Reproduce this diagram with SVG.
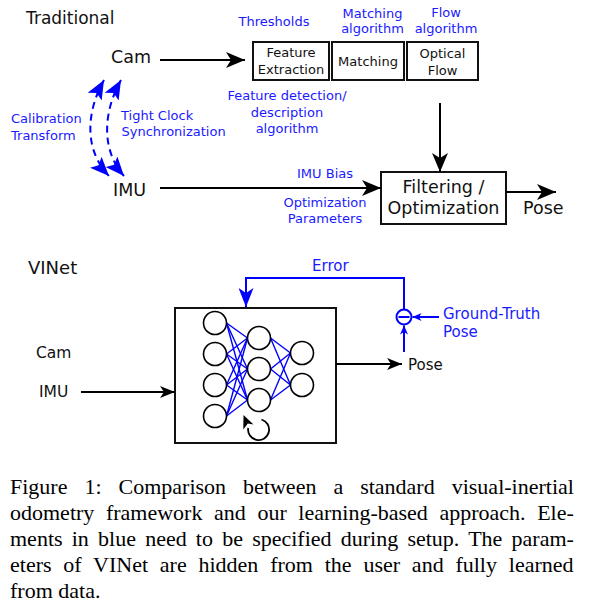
<svg xmlns="http://www.w3.org/2000/svg" width="589" height="605" viewBox="0 0 589 605">
<style>
.t{font-family:"DejaVu Sans",Verdana,sans-serif;fill:#111}
.b{font-family:"DejaVu Sans",Verdana,sans-serif;fill:#1a1aff;font-size:13px}
.box{fill:#fff;stroke:#111;stroke-width:2}
.ln{fill:none;stroke:#000;stroke-width:2}
.bl{fill:none;stroke:#0000ff;stroke-width:2}
.nc{fill:#fff;stroke:#000;stroke-width:1.6}
.nn{stroke:#0000ff;stroke-width:1.4}
.cap{font-family:"Liberation Serif","Times New Roman",serif;font-size:22px;fill:#000}
</style>
<defs>
<marker id="ah" viewBox="0 0 19 16" markerWidth="19" markerHeight="16" refX="19" refY="8" orient="auto" markerUnits="userSpaceOnUse"><path d="M0,0 L19,8 L0,16 L5,8 Z" fill="#000"/></marker>
<marker id="ahs" viewBox="0 0 15 12" markerWidth="15" markerHeight="12" refX="15" refY="6" orient="auto" markerUnits="userSpaceOnUse"><path d="M0,0 L15,6 L0,12 L4,6 Z" fill="#000"/></marker>
<marker id="bh" viewBox="0 0 19 16" markerWidth="19" markerHeight="16" refX="19" refY="8" orient="auto-start-reverse" markerUnits="userSpaceOnUse"><path d="M0,0 L19,8 L0,16 L4,8 Z" fill="#0000ff"/></marker>
<marker id="be" viewBox="0 0 19 15" markerWidth="19" markerHeight="15" refX="19" refY="7.5" orient="auto" markerUnits="userSpaceOnUse"><path d="M0,0 L19,7.5 L0,15 L5,7.5 Z" fill="#0000ff"/></marker>
<marker id="bs" viewBox="0 0 9 8" markerWidth="9" markerHeight="8" refX="9" refY="4" orient="auto" markerUnits="userSpaceOnUse"><path d="M0,0 L9,4 L0,8 L2.5,4 Z" fill="#0000ff"/></marker>
</defs>

<!-- Traditional -->
<text class="t" x="26" y="24" font-size="17">Traditional</text>

<g id="cam1"><text class="t" x="111" y="63" font-size="17.5">Cam</text></g>
<g id="imu1"><text class="t" x="113" y="196" font-size="17.5">IMU</text></g>

<g id="feature-extraction">
<rect class="box" x="253" y="42" width="76" height="38"/>
<text class="t" x="291" y="57" font-size="13" text-anchor="middle">Feature</text>
<text class="t" x="291" y="74" font-size="13" text-anchor="middle">Extraction</text>
</g>
<g id="matching">
<rect class="box" x="332" y="42" width="72" height="38"/>
<text class="t" x="368" y="66" font-size="13" text-anchor="middle">Matching</text>
</g>
<g id="optical-flow">
<rect class="box" x="407" y="42" width="71" height="38"/>
<text class="t" x="442.5" y="58" font-size="13" text-anchor="middle">Optical</text>
<text class="t" x="442.5" y="75" font-size="13" text-anchor="middle">Flow</text>
</g>
<g id="filtering">
<rect class="box" x="381" y="172" width="125" height="52"/>
<text class="t" x="443.5" y="193" font-size="17.5" text-anchor="middle">Filtering /</text>
<text class="t" x="443.5" y="214" font-size="17.5" text-anchor="middle">Optimization</text>
</g>
<g id="pose1"><text class="t" x="523" y="214" font-size="17.5">Pose</text></g>

<g id="blue-labels-top">
<text class="b" x="274" y="25.5" text-anchor="middle">Thresholds</text>
<text class="b" x="372.5" y="18" text-anchor="middle">Matching</text>
<text class="b" x="372.5" y="33" text-anchor="middle">algorithm</text>
<text class="b" x="446" y="17" text-anchor="middle">Flow</text>
<text class="b" x="446" y="33" text-anchor="middle">algorithm</text>
<text class="b" x="287" y="100" text-anchor="middle">Feature detection/</text>
<text class="b" x="287" y="116.5" text-anchor="middle">description</text>
<text class="b" x="287" y="132.5" text-anchor="middle">algorithm</text>
<text class="b" x="11" y="123">Calibration</text>
<text class="b" x="11" y="139.5">Transform</text>
<text class="b" x="121" y="119.5">Tight Clock</text>
<text class="b" x="121.5" y="136">Synchronization</text>
<text class="b" x="325" y="177.5" text-anchor="middle">IMU Bias</text>
<text class="b" x="325" y="206.5" text-anchor="middle">Optimization</text>
<text class="b" x="325" y="223" text-anchor="middle">Parameters</text>
</g>

<g id="connectors-traditional">
<line class="ln" x1="160" y1="60" x2="245" y2="60" marker-end="url(#ah)"/>
<line class="ln" x1="440" y1="103" x2="440" y2="172" marker-end="url(#ah)"/>
<line class="ln" x1="160" y1="188" x2="381" y2="188" marker-end="url(#ah)"/>
<line class="ln" x1="506" y1="192" x2="556" y2="192" marker-end="url(#ah)"/>
<path class="bl" stroke-width="2.4" stroke-dasharray="7,5" d="M104,80 C86,112 84,150 109,176" marker-start="url(#bh)" marker-end="url(#bh)"/>
<path class="bl" stroke-width="2.4" stroke-dasharray="7,5" d="M121,80 C103,112 101,150 124,176" marker-start="url(#bh)" marker-end="url(#bh)"/>
</g>

<!-- VINet -->
<text class="t" x="28" y="274" font-size="18">VINet</text>
<g id="cam2"><text class="t" x="36" y="358" font-size="15.5">Cam</text></g>
<g id="imu2"><text class="t" x="39" y="397" font-size="15.5">IMU</text></g>

<g id="vinet">
<rect class="box" x="175" y="308" width="161" height="135"/>
<g id="net-edges">
<line class="nn" x1="226.5" y1="323" x2="247.5" y2="338"/>
<line class="nn" x1="226.5" y1="323" x2="247.5" y2="369"/>
<line class="nn" x1="226.5" y1="323" x2="247.5" y2="400"/>
<line class="nn" x1="226.5" y1="354" x2="247.5" y2="338"/>
<line class="nn" x1="226.5" y1="354" x2="247.5" y2="369"/>
<line class="nn" x1="226.5" y1="354" x2="247.5" y2="400"/>
<line class="nn" x1="226.5" y1="385" x2="247.5" y2="338"/>
<line class="nn" x1="226.5" y1="385" x2="247.5" y2="369"/>
<line class="nn" x1="226.5" y1="385" x2="247.5" y2="400"/>
<line class="nn" x1="226.5" y1="416" x2="247.5" y2="338"/>
<line class="nn" x1="226.5" y1="416" x2="247.5" y2="369"/>
<line class="nn" x1="226.5" y1="416" x2="247.5" y2="400"/>
<line class="nn" x1="270.5" y1="338" x2="290.5" y2="353"/>
<line class="nn" x1="270.5" y1="338" x2="290.5" y2="385"/>
<line class="nn" x1="270.5" y1="369" x2="290.5" y2="353"/>
<line class="nn" x1="270.5" y1="369" x2="290.5" y2="385"/>
<line class="nn" x1="270.5" y1="400" x2="290.5" y2="353"/>
<line class="nn" x1="270.5" y1="400" x2="290.5" y2="385"/>
</g>
<g id="neurons">
<circle class="nc" cx="215" cy="323" r="11.5"/>
<circle class="nc" cx="215" cy="354" r="11.5"/>
<circle class="nc" cx="215" cy="385" r="11.5"/>
<circle class="nc" cx="215" cy="416" r="11.5"/>
<circle class="nc" cx="259" cy="338" r="11.5"/>
<circle class="nc" cx="259" cy="369" r="11.5"/>
<circle class="nc" cx="259" cy="400" r="11.5"/>
<circle class="nc" cx="302" cy="353" r="11.5"/>
<circle class="nc" cx="302" cy="385" r="11.5"/>
</g>
<path d="M261.5,419.5 A10.5,10.5 0 1 1 248.2,428" fill="none" stroke="#000" stroke-width="1.8"/>
<polygon points="243.5,415 253.5,424.5 247.8,423.5 243.3,429.5" fill="#000"/>
</g>

<g id="minus-node">
<circle cx="404" cy="317" r="7.5" fill="#fff" stroke="#0000ff" stroke-width="2"/>
<line x1="398.5" y1="317" x2="409.5" y2="317" stroke="#0000ff" stroke-width="2"/>
</g>
<g id="error-label"><text class="b" x="312" y="271" style="font-size:15px">Error</text></g>
<g id="gt-label">
<text class="b" x="443" y="319" style="font-size:15px">Ground-Truth</text>
<text class="b" x="443" y="337" style="font-size:15px">Pose</text>
</g>
<g id="pose2"><text class="t" x="408" y="370" font-size="15">Pose</text></g>

<g id="connectors-vinet">
<line class="ln" stroke-width="1.6" x1="81" y1="392" x2="175" y2="392" marker-end="url(#ahs)"/>
<line class="ln" stroke-width="1.6" x1="336" y1="364" x2="402" y2="364" marker-end="url(#ahs)"/>
<polyline class="bl" points="404,309.5 404,278 246,278 246,307" marker-end="url(#be)"/>
<line class="bl" x1="404" y1="352" x2="404" y2="325.5" marker-end="url(#bs)"/>
<line class="bl" x1="439" y1="317" x2="412.5" y2="317" marker-end="url(#bs)"/>
</g>

<g id="caption">
<text class="cap" x="10" y="494" word-spacing="11.5">Figure 1: Comparison between a standard visual-inertial</text>
<text class="cap" x="10" y="520" word-spacing="6.1">odometry framework and our learning-based approach. Ele-</text>
<text class="cap" x="10" y="546" word-spacing="3.7">ments in blue need to be specified during setup. The param-</text>
<text class="cap" x="10" y="572" word-spacing="6.3">eters of VINet are hidden from the user and fully learned</text>
<text class="cap" x="10" y="598">from data.</text>
</g>
</svg>
